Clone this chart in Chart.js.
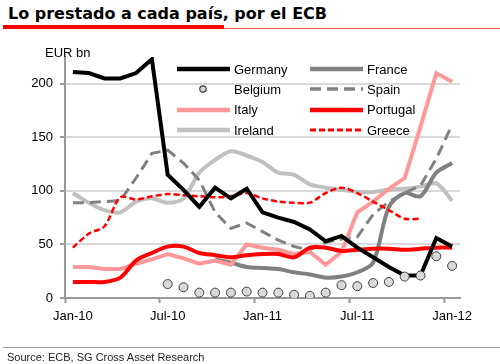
<!DOCTYPE html>
<html>
<head>
<meta charset="utf-8">
<script src="https://cdn.jsdelivr.net/npm/chart.js@4"></script>
<style>
  body { margin: 0; background: #fff; font-family: "Liberation Sans", Arial, sans-serif; }
  #wrap { position: relative; width: 500px; height: 364px; overflow: hidden; }
  #title { position: absolute; left: 8px; top: 4px; font-family: "DejaVu Sans", Verdana, sans-serif; font-size: 16px; font-weight: bold; color: #000; white-space: nowrap; }
  #barThick { position: absolute; left: 3px; top: 25px; width: 221px; height: 4px; background: #ff0000; }
  #barThin { position: absolute; left: 224px; top: 28px; width: 276px; height: 1px; background: #f05050; }
  #unit { position: absolute; left: 45px; top: 45px; font-size: 13px; color: #000; }
  #chartBox { position: absolute; left: 0; top: 0; width: 500px; height: 364px; }
  #legend { position: absolute; left: 177px; top: 59px; display: grid; grid-template-columns: 133px 130px; grid-auto-rows: 20.3px; font-size: 13px; color: #000; }
  #legend div { display: flex; align-items: center; white-space: nowrap; }
  #legend svg { margin-right: 4px; }
  #rule { position: absolute; left: 3px; top: 347px; width: 497px; height: 1px; background: #999; }
  #source { position: absolute; left: 7px; top: 351px; font-size: 11px; color: #222; }
</style>
</head>
<body>
<div id="wrap">
  <div id="title">Lo prestado a cada país, por el ECB</div>
  <div id="barThick"></div>
  <div id="barThin"></div>
  <div id="chartBox"><canvas id="ecbChart"></canvas></div>
  <div id="unit">EUR bn</div>
  <div id="legend"></div>
  <div id="rule"></div>
  <div id="source">Source: ECB, SG Cross Asset Research</div>
</div>
<script>
// 月次ラベル（Jan-10 〜 Jan-12）
const months = ['Jan-10','Feb-10','Mar-10','Apr-10','May-10','Jun-10','Jul-10','Aug-10','Sep-10','Oct-10','Nov-10','Dec-10',
                'Jan-11','Feb-11','Mar-11','Apr-11','May-11','Jun-11','Jul-11','Aug-11','Sep-11','Oct-11','Nov-11','Dec-11','Jan-12'];
const shownTicks = ['Jan-10','Jul-10','Jan-11','Jul-11','Jan-12'];

// 国別の値（EUR bn）
const germany  = [211,210,205,205,210,223,115,101,85,103,93,102,80,75,71,64,53,58,47,38,29,21,21,56,48];
const belgium  = [null,null,null,null,null,null,13,10,5,5,5,6,5,5,3,2,5,12,11,14,15,20,21,39,30];
const italy    = [29,29,27,27,32,36,41,37,32,35,31,50,47,45,41,43,31,43,80,90,102,112,160,210,202];
const ireland  = [98,89,82,80,90,93,89,93,117,129,137,133,127,117,115,106,103,101,99,99,101,102,104,107,91];
const france   = [null,null,null,null,null,null,null,null,null,36,33,29,28,27,24,22,19,20,24,33,85,98,95,117,126];
const spain    = [89,89,90,91,112,135,138,126,110,80,65,70,62,54,48,45,52,55,57,78,90,98,105,130,162];
const portugal = [15,15,15,19,35,42,48,48,42,40,38,40,41,41,38,47,47,44,45,46,46,45,46,47,47];
const greece   = [47,60,67,94,92,95,97,96,95,94,95,98,93,90,89,89,98,103,98,90,82,74,74,null,null];

// 線の共通設定
function lineSet(label, data, color, width, dash, tension) {
    return {
        label: label,
        data: data,
        borderColor: color,
        backgroundColor: color,
        borderWidth: width,
        borderDash: dash,
        pointRadius: 0,
        tension: tension,
        spanGaps: false
    };
}

// 先頭ほど上に描かれる
const datasets = [
    {
        label: 'Belgium',
        data: belgium,
        showLine: false,
        pointRadius: 4.5,
        pointBackgroundColor: '#d9d9d9',
        pointBorderColor: '#404040',
        pointBorderWidth: 1
    },
    lineSet('Germany', germany, '#000000', 4, [], 0),
    lineSet('Portugal', portugal, '#ff0000', 4, [], 0.3),
    lineSet('Greece', greece, '#ff0000', 2.5, [6, 3], 0.3),
    lineSet('Italy', italy, '#ff9999', 4, [], 0),
    lineSet('Spain', spain, '#808080', 3, [11, 6], 0),
    lineSet('France', france, '#808080', 4, [], 0.3),
    lineSet('Ireland', ireland, '#c0c0c0', 4, [], 0.3)
];

const axisGray = '#999999';
const majorIdx = months.map((m, i) => shownTicks.includes(m) ? i : -1).filter(i => i >= 0);

new Chart(document.getElementById('ecbChart'), {
    type: 'line',
    data: { labels: months, datasets: datasets },
    options: {
        responsive: true,
        maintainAspectRatio: false,
        animation: false,
        events: [],
        layout: { padding: { top: 57, right: 40, left: 0, bottom: 0 } },
        plugins: {
            legend: { display: false },
            tooltip: { enabled: false }
        },
        scales: {
            x: {
                type: 'category',
                offset: true,
                afterFit: s => { s.height = 66; },
                grid: {
                    offset: true,
                    drawOnChartArea: false,
                    tickLength: 5,
                    tickWidth: 2,
                    tickColor: ctx => majorIdx.includes(ctx.index) ? axisGray : 'rgba(0,0,0,0)'
                },
                border: { color: axisGray, width: 2 },
                ticks: {
                    autoSkip: false,
                    maxRotation: 0,
                    padding: 6,
                    color: '#000',
                    font: { family: '"Liberation Sans", Arial, sans-serif', size: 13 },
                    callback: function(v, i) { return shownTicks.includes(months[i]) ? months[i] : ''; }
                }
            },
            y: {
                min: 0,
                max: 225,
                afterFit: s => { s.width = 65; },
                grid: {
                    color: '#d9d9d9',
                    lineWidth: 2,
                    tickLength: 5,
                    tickColor: axisGray,
                    tickWidth: 2
                },
                border: { color: axisGray, width: 2 },
                ticks: {
                    stepSize: 50,
                    includeBounds: false,
                    padding: 7,
                    color: '#000',
                    font: { family: '"Liberation Sans", Arial, sans-serif', size: 13 }
                }
            }
        }
    }
});

// 凡例（2列）
const legendOrder = ['Germany','France','Belgium','Spain','Italy','Portugal','Ireland','Greece'];
const legendBox = document.getElementById('legend');
legendOrder.forEach(name => {
    const ds = datasets.find(d => d.label === name);
    let swatch;
    if (name === 'Belgium') {
        swatch = '<svg width="53" height="10"><circle cx="26" cy="5" r="3.2" fill="#d9d9d9" stroke="#404040" stroke-width="1.2"/></svg>';
    } else {
        const dash = ds.borderDash.length ? ` stroke-dasharray="${ds.borderDash.join(' ')}"` : '';
        swatch = `<svg width="53" height="10"><line x1="0" y1="5" x2="53" y2="5" stroke="${ds.borderColor}" stroke-width="${ds.borderWidth + 0.5}"${dash}/></svg>`;
    }
    const item = document.createElement('div');
    item.innerHTML = swatch + '<span>' + name + '</span>';
    legendBox.appendChild(item);
});
</script>
</body>
</html>
